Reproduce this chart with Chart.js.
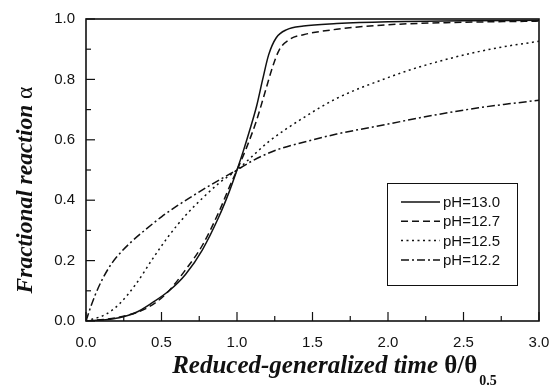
<!DOCTYPE html>
<html>
<head>
<meta charset="utf-8">
<script src="https://cdn.jsdelivr.net/npm/chart.js@4/dist/chart.umd.min.js"></script>
<style>html,body{margin:0;padding:0;background:#fff}</style>
</head>
<body>
<canvas id="chart" width="554" height="387"></canvas>
<script>
// values
const seriesLabels = ["pH=13.0", "pH=12.7", "pH=12.5", "pH=12.2"];

const x130 = [0, 0.10, 0.22, 0.33, 0.44, 0.55, 0.66, 0.77, 0.88, 0.95, 1.00, 1.04, 1.08, 1.13, 1.17, 1.21, 1.26, 1.33, 1.44, 1.66, 2.00, 2.50, 3.00];
const y130 = [0, 0.003, 0.011, 0.028, 0.061, 0.100, 0.155, 0.235, 0.345, 0.430, 0.500, 0.560, 0.625, 0.712, 0.800, 0.882, 0.938, 0.965, 0.977, 0.985, 0.991, 0.994, 0.996];

const x127 = [0, 0.13, 0.265, 0.40, 0.53, 0.66, 0.77, 0.88, 0.95, 1.00, 1.06, 1.13, 1.19, 1.24, 1.28, 1.35, 1.44, 1.66, 2.00, 2.50, 3.00];
const y127 = [0, 0.006, 0.018, 0.042, 0.090, 0.170, 0.250, 0.361, 0.444, 0.500, 0.570, 0.665, 0.765, 0.848, 0.898, 0.933, 0.948, 0.966, 0.981, 0.989, 0.993];

const x125 = [0, 0.13, 0.22, 0.33, 0.44, 0.55, 0.66, 0.77, 0.88, 1.00, 1.10, 1.21, 1.44, 1.66, 2.00, 2.20, 2.40, 2.60, 2.80, 3.00];
const y125 = [0, 0.022, 0.056, 0.122, 0.205, 0.283, 0.350, 0.406, 0.456, 0.500, 0.545, 0.594, 0.673, 0.737, 0.806, 0.840, 0.868, 0.892, 0.911, 0.926];

const x122 = [0, 0.03, 0.06, 0.10, 0.15, 0.20, 0.30, 0.40, 0.50, 0.60, 0.70, 0.80, 0.90, 1.00, 1.10, 1.20, 1.30, 1.44, 1.66, 2.00, 2.20, 2.40, 2.60, 2.80, 3.00];
const y122 = [0, 0.045, 0.085, 0.130, 0.175, 0.210, 0.262, 0.305, 0.345, 0.380, 0.412, 0.443, 0.472, 0.500, 0.530, 0.554, 0.573, 0.592, 0.619, 0.652, 0.672, 0.690, 0.706, 0.719, 0.731];

const xTickValues = [0, 0.5, 1.0, 1.5, 2.0, 2.5, 3.0];
const xTickLabels = ["0.0", "0.5", "1.0", "1.5", "2.0", "2.5", "3.0"];
const xMinorTicks = [0.25, 0.75, 1.25, 1.75, 2.25, 2.75];
const yTickValues = [0, 0.2, 0.4, 0.6, 0.8, 1.0];
const yTickLabels = ["0.0", "0.2", "0.4", "0.6", "0.8", "1.0"];
const yMinorTicks = [0.1, 0.3, 0.5, 0.7, 0.9];

const dashes = [[], [7, 4], [2, 3.5], [8, 3, 2, 3]];
const seriesX = [x130, x127, x125, x122];
const seriesY = [y130, y127, y125, y122];

const ink = "#111";

const datasets = seriesLabels.map((label, i) => ({
    label,
    data: seriesX[i].map((x, j) => ({x, y: seriesY[i][j]})),
    borderColor: ink,
    borderWidth: 1.5,
    borderDash: dashes[i],
    pointRadius: 0,
    fill: false,
    cubicInterpolationMode: "monotone"
}));

// frame plus inward major/minor ticks
const framePlugin = {
    id: "frame",
    afterDatasetsDraw(chart) {
        const {ctx, chartArea: a, scales} = chart;
        ctx.save();
        ctx.strokeStyle = ink;
        ctx.setLineDash([]);
        ctx.lineWidth = 1.2;
        xTickValues.forEach(v => {
            const px = scales.x.getPixelForValue(v);
            ctx.beginPath(); ctx.moveTo(px, a.bottom); ctx.lineTo(px, a.bottom - 9); ctx.stroke();
        });
        xMinorTicks.forEach(v => {
            const px = scales.x.getPixelForValue(v);
            ctx.beginPath(); ctx.moveTo(px, a.bottom); ctx.lineTo(px, a.bottom - 5); ctx.stroke();
        });
        yTickValues.forEach(v => {
            const py = scales.y.getPixelForValue(v);
            ctx.beginPath(); ctx.moveTo(a.left, py); ctx.lineTo(a.left + 9, py); ctx.stroke();
        });
        yMinorTicks.forEach(v => {
            const py = scales.y.getPixelForValue(v);
            ctx.beginPath(); ctx.moveTo(a.left, py); ctx.lineTo(a.left + 5, py); ctx.stroke();
        });
        ctx.lineWidth = 1.6;
        ctx.strokeRect(a.left, a.top, a.right - a.left, a.bottom - a.top);
        ctx.restore();
    }
};

// boxed legend inside the plot
const legendPlugin = {
    id: "boxLegend",
    afterDraw(chart) {
        const ctx = chart.ctx;
        ctx.save();
        ctx.fillStyle = "#fff";
        ctx.fillRect(387, 183, 130, 102);
        ctx.strokeStyle = ink;
        ctx.lineWidth = 1;
        ctx.setLineDash([]);
        ctx.strokeRect(387.5, 183.5, 130, 102);
        ctx.font = '15px "Liberation Sans", Arial, sans-serif';
        ctx.textBaseline = "middle";
        ctx.textAlign = "left";
        chart.data.datasets.forEach((ds, i) => {
            const y = 202 + i * 19.3;
            ctx.strokeStyle = ink;
            ctx.lineWidth = 1.5;
            ctx.setLineDash(ds.borderDash);
            ctx.beginPath(); ctx.moveTo(401, y); ctx.lineTo(440, y); ctx.stroke();
            ctx.setLineDash([]);
            ctx.fillStyle = ink;
            ctx.fillText(ds.label, 443, y + 1);
        });
        ctx.restore();
    }
};

// axis titles (the x title needs a subscript)
const titlePlugin = {
    id: "axisTitles",
    afterDraw(chart) {
        const ctx = chart.ctx;
        ctx.save();
        ctx.fillStyle = ink;
        ctx.textBaseline = "alphabetic";
        ctx.textAlign = "left";

        const fMain = 'italic bold 25px "Liberation Serif", "Times New Roman", serif';
        const fSym = 'bold 25px "Liberation Serif", "Times New Roman", serif';
        const fSub = 'bold 14px "Liberation Serif", "Times New Roman", serif';
        const t1 = "Reduced-generalized time ", t2 = "θ/θ", t3 = "0.5";
        ctx.font = fMain; const w1 = ctx.measureText(t1).width;
        ctx.font = fSym; const w2 = ctx.measureText(t2).width;
        ctx.font = fSub; const w3 = ctx.measureText(t3).width;
        let x = 334.5 - (w1 + w2 + 2 + w3) / 2;
        ctx.font = fMain; ctx.fillText(t1, x, 373); x += w1;
        ctx.font = fSym; ctx.fillText(t2, x, 373); x += w2 + 2;
        ctx.font = fSub; ctx.fillText(t3, x, 385);

        const s1 = "Fractional reaction ", s2 = "α";
        const fY = 'italic bold 23.5px "Liberation Serif", "Times New Roman", serif';
        const fAlpha = '23.5px "Liberation Serif", "Times New Roman", serif';
        ctx.translate(32, 190);
        ctx.rotate(-Math.PI / 2);
        ctx.font = fY; const v1 = ctx.measureText(s1).width;
        ctx.font = fAlpha; const v2 = ctx.measureText(s2).width;
        let s = -(v1 + v2) / 2;
        ctx.font = fY; ctx.fillText(s1, s, 0);
        ctx.font = fAlpha; ctx.fillText(s2, s + v1, 0);
        ctx.restore();
    }
};

const tickFont = {family: '"Liberation Sans", Arial, sans-serif', size: 15};

new Chart(document.getElementById("chart"), {
    type: "line",
    data: {datasets},
    options: {
        responsive: false,
        animation: false,
        layout: {padding: {top: 19, right: 15, left: 0, bottom: 0}},
        plugins: {legend: {display: false}, tooltip: {enabled: false}},
        scales: {
            x: {
                type: "linear",
                min: 0, max: 3,
                afterBuildTicks: sc => { sc.ticks = xTickValues.map(v => ({value: v})); },
                afterFit: sc => { sc.height = 66; sc.paddingLeft = 0; sc.paddingRight = 0; },
                ticks: {color: ink, font: tickFont, padding: 13, maxRotation: 0,
                        callback: (v, i) => xTickLabels[i]},
                grid: {display: false, drawTicks: false},
                border: {display: false}
            },
            y: {
                type: "linear",
                min: 0, max: 1,
                afterBuildTicks: sc => { sc.ticks = yTickValues.map(v => ({value: v})); },
                afterFit: sc => { sc.width = 86; sc.paddingTop = 0; sc.paddingBottom = 0; },
                ticks: {color: ink, font: tickFont, padding: 11,
                        callback: (v, i) => yTickLabels[i]},
                grid: {display: false, drawTicks: false},
                border: {display: false}
            }
        }
    },
    plugins: [framePlugin, legendPlugin, titlePlugin]
});
</script>
</body>
</html>
